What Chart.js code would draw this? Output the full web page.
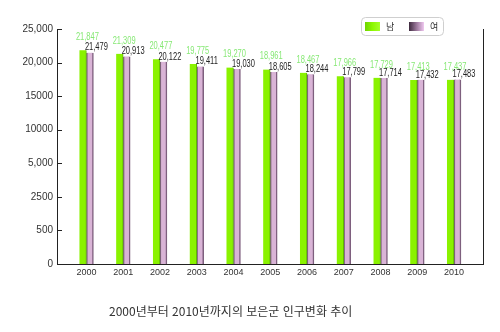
<!DOCTYPE html>
<html lang="ko">
<head>
<meta charset="utf-8">
<title>보은군 인구변화 추이</title>
<script src="https://cdn.jsdelivr.net/npm/chart.js@4.4.1/dist/chart.umd.min.js"></script>
<style>
  html, body { margin: 0; padding: 0; background: #fff; }
  #wrap { position: relative; width: 500px; height: 332px; }
  #caption {
    position: absolute; left: 109px; top: 302px;
    font: 12px "Noto Sans CJK KR", sans-serif; color: #333; white-space: nowrap;
  }
</style>
</head>
<body>
<div id="wrap">
  <canvas id="popChart" width="500" height="332"></canvas>
  <div id="caption">2000년부터 2010년까지의 보은군 인구변화 추이</div>
</div>
<script>
// 연도별 인구 (명)
const years = [2000, 2001, 2002, 2003, 2004, 2005, 2006, 2007, 2008, 2009, 2010];
const male = [21847, 21309, 20477, 19775, 19270, 18961, 18467, 17966, 17729, 17413, 17437];
const female = [21479, 20913, 20122, 19411, 19030, 18605, 18244, 17799, 17714, 17432, 17483];
const seriesNames = ['남', '여'];

// 세로축 눈금 (간격이 균등하지 않음)
const yTicks = [0, 500, 2500, 5000, 10000, 15000, 20000, 25000];
const yTickLabels = ['0', '500', '2500', '5,000', '10000', '15000', '20,000', '25,000'];

const FONT = '"Liberation Sans", Arial, sans-serif';
Chart.defaults.font.family = FONT;
Chart.defaults.color = '#333';

// 눈금 사이를 같은 높이로 나누는 구간 선형 축
class BrokenScale extends Chart.LinearScale {
  static id = 'broken';
  static defaults = Chart.LinearScale.defaults;

  buildTicks() {
    return yTicks.map(v => ({ value: v }));
  }
  getPixelForValue(value) {
    const n = yTicks.length - 1;
    let i = 0;
    while (i < n - 1 && value > yTicks[i + 1]) i++;
    const frac = (value - yTicks[i]) / (yTicks[i + 1] - yTicks[i]);
    return this.getPixelForDecimal((i + frac) / n);
  }
  getValueForPixel(pixel) {
    const n = yTicks.length - 1;
    const d = this.getDecimalForPixel(pixel) * n;
    const i = Math.max(0, Math.min(n - 1, Math.floor(d)));
    return yTicks[i] + (d - i) * (yTicks[i + 1] - yTicks[i]);
  }
}
Chart.register(BrokenScale);

// 막대 위 수치 (좁은 글꼴 느낌으로 가로만 줄임)
const valueLabels = {
  id: 'valueLabels',
  afterDatasetsDraw(chart, args, opts) {
    const ctx = chart.ctx;
    chart.data.datasets.forEach((ds, di) => {
      const st = opts.styles[di];
      chart.getDatasetMeta(di).data.forEach((bar, i) => {
        ctx.save();
        ctx.translate(bar.x + st.dx, bar.y + st.dy);
        ctx.scale(opts.squeeze, 1);
        ctx.font = '10px ' + FONT;
        ctx.textAlign = 'center';
        ctx.textBaseline = 'middle';
        ctx.fillStyle = st.color;
        ctx.fillText(ds.data[i].toLocaleString('en-US'), 0, 0);
        ctx.restore();
      });
    });
  }
};

// 세로축 안쪽 눈금
const innerTicks = {
  id: 'innerTicks',
  afterDraw(chart) {
    const { ctx, chartArea, scales } = chart;
    ctx.save();
    ctx.strokeStyle = '#222';
    ctx.lineWidth = 1;
    scales.y.ticks.forEach(t => {
      const y = Math.round(scales.y.getPixelForValue(t.value)) + 0.5;
      ctx.beginPath();
      ctx.moveTo(chartArea.left, y);
      ctx.lineTo(chartArea.left + 5, y);
      ctx.stroke();
    });
    ctx.restore();
  }
};

// 테두리 있는 범례
const boxLegend = {
  id: 'boxLegend',
  afterDraw(chart, args, opts) {
    const ctx = chart.ctx;
    const b = opts.box;
    ctx.save();
    ctx.fillStyle = '#fff';
    ctx.strokeStyle = '#cfcfcf';
    ctx.lineWidth = 1;
    ctx.beginPath();
    ctx.roundRect(b.x + 0.5, b.y + 0.5, b.w, b.h, 4);
    ctx.fill();
    ctx.stroke();
    ctx.font = '9px "Noto Sans CJK KR", sans-serif';
    ctx.textBaseline = 'middle';
    chart.data.datasets.forEach((ds, di) => {
      const x = b.x + 4 + di * opts.step;
      const y = b.y + 5;
      const g = ctx.createLinearGradient(x, 0, x + 15, 0);
      opts.swatch[di].forEach((c, k, arr) => g.addColorStop(k / (arr.length - 1), c));
      ctx.fillStyle = g;
      ctx.fillRect(x, y, 15, 9);
      ctx.fillStyle = '#333';
      ctx.fillText(ds.label, x + 21, y + 4.5);
    });
    ctx.restore();
  }
};

new Chart(document.getElementById('popChart'), {
  type: 'bar',
  data: {
    labels: years,
    datasets: [
      {
        label: seriesNames[0],
        data: male,
        backgroundColor: '#8af200',
        borderColor: '#5fb800',
        borderWidth: { left: 0, right: 1, top: 0, bottom: 0 },
        borderSkipped: false,
        barThickness: 7
      },
      {
        label: seriesNames[1],
        data: female,
        backgroundColor: '#d9b4d6',
        borderColor: '#7e5f7e',
        borderWidth: { left: 1.5, right: 1.5, top: 0, bottom: 0 },
        borderSkipped: false,
        barThickness: 7
      }
    ]
  },
  options: {
    responsive: false,
    animation: false,
    devicePixelRatio: 1,
    layout: { padding: { left: 0, right: 17, top: 29, bottom: 50 } },
    plugins: {
      legend: { display: false },
      tooltip: { enabled: false },
      valueLabels: {
        squeeze: 0.75,
        styles: [
          { color: '#86e874', dx: 4.5, dy: -13 },
          { color: '#222', dx: 6.5, dy: -5 }
        ]
      },
      boxLegend: {
        box: { x: 361, y: 17, w: 82, h: 18 },
        step: 44,
        swatch: [['#6fd400', '#8cf800', '#a6ff2a'], ['#3e2a3e', '#9a779a', '#f0c8f0']]
      }
    },
    scales: {
      x: {
        type: 'linear',
        offset: false,
        min: 1999.2,
        max: 2010.79,
        grid: { display: false, drawTicks: false },
        border: { display: true, color: '#222', width: 1 },
        afterBuildTicks: s => { s.ticks = years.map(v => ({ value: v })); },
        afterFit: s => { s.height = 18; },
        ticks: {
          padding: 3,
          maxRotation: 0,
          font: { size: 9 },
          color: '#333',
          callback: v => String(v)
        }
      },
      y: {
        type: 'broken',
        min: 0,
        max: 25000,
        grid: { display: false, drawTicks: false },
        border: { display: true, color: '#222', width: 1 },
        afterFit: s => { s.width = 57; },
        ticks: {
          padding: 4,
          font: { size: 10 },
          color: '#333',
          callback: (v, i) => yTickLabels[i]
        }
      },
      y2: {
        type: 'linear',
        position: 'right',
        grid: { display: false, drawTicks: false },
        border: { display: true, color: '#222', width: 1 },
        ticks: { display: false },
        afterFit: s => { s.width = 0; }
      }
    }
  },
  plugins: [valueLabels, innerTicks, boxLegend]
});
</script>
</body>
</html>
